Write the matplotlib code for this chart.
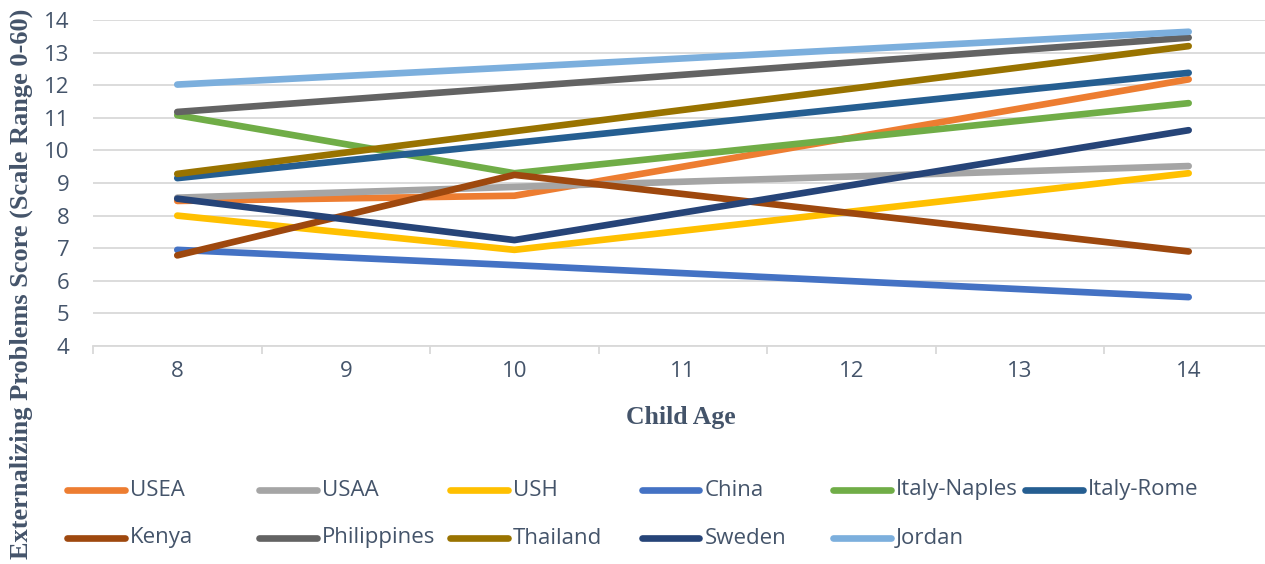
import matplotlib
matplotlib.use("Agg")
import matplotlib.pyplot as plt
from matplotlib.lines import Line2D

# Edades medidas y puntajes por grupo
ages = [8, 10, 14]
groups = ["USEA", "USAA", "USH", "China", "Italy-Naples", "Italy-Rome",
          "Kenya", "Philippines", "Thailand", "Sweden", "Jordan"]

usea = [8.45, 8.61, 12.18]
usaa = [8.55, 8.88, 9.52]
ush = [8.00, 6.95, 9.30]
china = [6.95, 6.48, 5.50]
italy_naples = [11.08, 9.30, 11.45]
italy_rome = [9.15, 10.23, 12.38]
kenya = [6.78, 9.25, 6.90]
philippines = [11.18, 11.94, 13.46]
thailand = [9.28, 10.59, 13.20]
sweden = [8.52, 7.25, 10.62]
jordan = [12.02, 12.55, 13.64]

series = [usea, usaa, ush, china, italy_naples, italy_rome,
          kenya, philippines, thailand, sweden, jordan]
colors = ["#ED7D31", "#A5A5A5", "#FFC000", "#4472C4", "#70AD47", "#255E91",
          "#9E480E", "#636363", "#997300", "#264478", "#7CAFDD"]

age_ticks = [8, 9, 10, 11, 12, 13, 14]
y_ticks = [4, 5, 6, 7, 8, 9, 10, 11, 12, 13, 14]

text_color = "#44546A"
grid_color = "#D9D9D9"

fig = plt.figure(figsize=(12.65, 5.64), dpi=100)
ax = fig.add_axes([0.0735, 0.3865, 0.9328, 0.578])

for vals, col in zip(series, colors):
    ax.plot(ages, vals, color=col, linewidth=4.8, solid_capstyle="round",
            solid_joinstyle="round")

ax.set_xlim(7.5, 14.5)
ax.set_ylim(4, 14)
ax.set_yticks(y_ticks)
ax.set_xticks(age_ticks)
ax.set_xticks([a - 0.5 for a in age_ticks] + [14.5], minor=True)
ax.yaxis.grid(True, color=grid_color, linewidth=1.3)
ax.set_axisbelow(True)

for side in ["left", "right", "top"]:
    ax.spines[side].set_visible(False)
ax.spines["bottom"].set_color(grid_color)
ax.spines["bottom"].set_linewidth(1.3)

ax.tick_params(axis="y", length=0, pad=17, labelsize=16, labelcolor=text_color)
ax.tick_params(axis="x", which="major", length=0, pad=11, labelsize=16,
               labelcolor=text_color)
ax.tick_params(axis="x", which="minor", length=6, width=1.3, color=grid_color)
for lbl in ax.get_xticklabels() + ax.get_yticklabels():
    lbl.set_family("Open Sans")

fig.text(0.538, 0.259, "Child Age", ha="center", va="center",
         fontsize=18.5, fontweight="bold", family="Liberation Serif", color=text_color)
fig.text(0.017, 0.497, "Externalizing Problems Score (Scale Range 0-60)",
         ha="center", va="center", rotation=90, fontsize=19, fontweight="bold",
         family="Liberation Serif", color=text_color)

# leyenda en dos filas, seis columnas de ancho fijo
for i, (name, col) in enumerate(zip(groups, colors)):
    c, r = i % 6, i // 6
    x0 = (67 + c * 191.5) / 1265
    y0 = 1 - (490 + r * 48) / 564
    fig.add_artist(Line2D([x0, x0 + 58 / 1265], [y0, y0], color=col,
                          linewidth=4.8, solid_capstyle="round"))
    fig.text(x0 + 63 / 1265, y0, name, ha="left", va="center", fontsize=16,
             family="Open Sans", color=text_color)

fig.savefig("out.png", dpi=100)
